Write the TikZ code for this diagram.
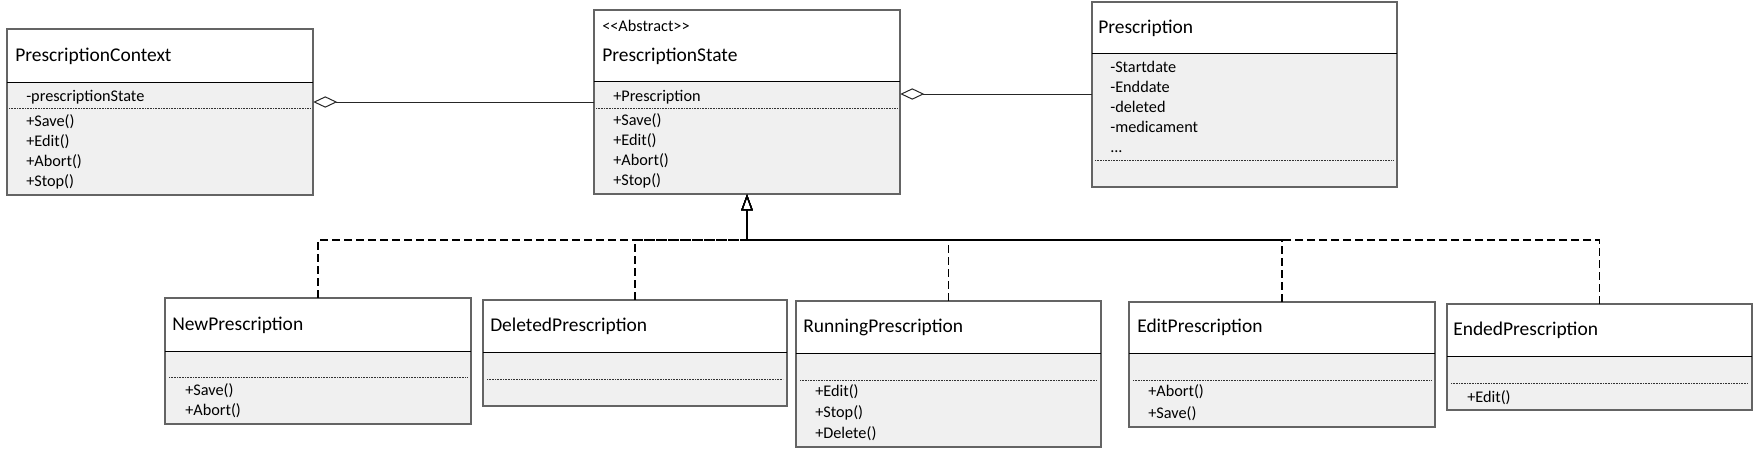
\documentclass[tikz,border=0pt]{standalone}
\usepackage{fontspec}
\setmainfont{Carlito}
\usetikzlibrary{arrows.meta,fit}
\definecolor{umlgray}{RGB}{240,240,240}
\definecolor{umlborder}{RGB}{100,100,100}
\tikzset{
  classtitle/.style={anchor=base west, inner sep=0pt, font=\fontsize{14.6}{17}\selectfont},
  member/.style={anchor=base west, inner sep=0pt, font=\fontsize{12.2}{15}\selectfont},
  classframe/.style={inner sep=0pt},
}
\begin{document}
\begin{tikzpicture}[x=0.75pt,y=0.75pt,yscale=-1,xscale=1,
  boxline/.style={draw=umlborder, line width=0.8pt},
  headline/.style={draw=black, line width=0.75pt},
  dotline/.style={draw=black!80, line width=0.5pt, dash pattern={on 0.6pt off 0.6pt}},
  aggr/.style={draw=black!85, line width=0.75pt, {Diamond[open,length=18pt,width=8.5pt]}-},
  realize/.style={draw=black, line width=0.9pt, dash pattern={on 6pt off 3pt}, -{Triangle[open,length=12pt,width=8.5pt]}}]
\useasboundingbox (0,0) rectangle (1757,451);

%Shape: Class PrescriptionContext
\fill [umlgray] (7,29) rectangle (313,195);
\fill [white] (7,29) rectangle (313,82);
\draw [boxline] (7,29) rectangle (313,195);
\draw [headline] (7,82) -- (313,82);
\draw [dotline] (9,108) -- (311,108);
\node [classframe, fit={(7,29) (313,195)}] (ctx) {};

%Shape: Class PrescriptionState
\fill [umlgray] (594,10) rectangle (900,194);
\fill [white] (594,10) rectangle (900,81);
\draw [boxline] (594,10) rectangle (900,194);
\draw [headline] (594,81) -- (900,81);
\draw [dotline] (596,108) -- (898,108);
\node [classframe, fit={(594,10) (900,194)}] (state) {};

%Shape: Class Prescription
\fill [umlgray] (1092,2) rectangle (1397,187);
\fill [white] (1092,2) rectangle (1397,53);
\draw [boxline] (1092,2) rectangle (1397,187);
\draw [headline] (1092,53) -- (1397,53);
\draw [dotline] (1095,160) -- (1394,160);
\node [classframe, fit={(1092,2) (1397,187)}] (presc) {};

%Shape: Class NewPrescription
\fill [umlgray] (165,298) rectangle (471,424);
\fill [white] (165,298) rectangle (471,351);
\draw [boxline] (165,298) rectangle (471,424);
\draw [headline] (165,351) -- (471,351);
\draw [dotline] (169,377) -- (467,377);
\node [classframe, fit={(165,298) (471,424)}] (newp) {};

%Shape: Class DeletedPrescription
\fill [umlgray] (483,300) rectangle (787,406);
\fill [white] (483,300) rectangle (787,352);
\draw [boxline] (483,300) rectangle (787,406);
\draw [headline] (483,352) -- (787,352);
\draw [dotline] (487,379) -- (783,379);
\node [classframe, fit={(483,300) (787,406)}] (delp) {};

%Shape: Class RunningPrescription
\fill [umlgray] (796,301) rectangle (1101,447);
\fill [white] (796,301) rectangle (1101,353);
\draw [boxline] (796,301) rectangle (1101,447);
\draw [headline] (796,353) -- (1101,353);
\draw [dotline] (800,380) -- (1097,380);
\node [classframe, fit={(796,301) (1101,447)}] (runp) {};

%Shape: Class EditPrescription
\fill [umlgray] (1129,302) rectangle (1435,427);
\fill [white] (1129,302) rectangle (1435,353);
\draw [boxline] (1129,302) rectangle (1435,427);
\draw [headline] (1129,353) -- (1435,353);
\draw [dotline] (1133,380) -- (1431,380);
\node [classframe, fit={(1129,302) (1435,427)}] (editp) {};

%Shape: Class EndedPrescription
\fill [umlgray] (1447,304) rectangle (1752,410);
\fill [white] (1447,304) rectangle (1752,356);
\draw [boxline] (1447,304) rectangle (1752,410);
\draw [headline] (1447,356) -- (1752,356);
\draw [dotline] (1451,383) -- (1748,383);
\node [classframe, fit={(1447,304) (1752,410)}] (endp) {};

% Text Node
\node [classtitle] (ctxtitle) at (15,61.5) {PrescriptionContext};
\node [member] (ctxattr) at (26,101.5) {-prescriptionState};
\node [member] (ctxsave) at (26,126) {+Save()};
\node [member] (ctxedit) at (26,146) {+Edit()};
\node [member] (ctxabort) at (26,166) {+Abort()};
\node [member] (ctxstop) at (26,186) {+Stop()};
% Text Node
\node [member] (statestereo) at (602,31) {<{}<Abstract>{}>};
\node [classtitle] (statetitle) at (602,61) {PrescriptionState};
\node [member] (stateattr) at (613,101) {+Prescription};
\node [member] (statesave) at (613,125) {+Save()};
\node [member] (stateedit) at (613,145) {+Edit()};
\node [member] (stateabort) at (613,165) {+Abort()};
\node [member] (statestop) at (613,185) {+Stop()};
% Text Node
\node [classtitle] (presctitle) at (1098,33) {Prescription};
\node [member] (prescstart) at (1110,72.5) {-Startdate};
\node [member] (prescend) at (1110,92.5) {-Enddate};
\node [member] (prescdel) at (1110,112.5) {-deleted};
\node [member] (prescmed) at (1110,132.5) {-medicament};
\node [member] (prescmore) at (1110,152) {...};
% Text Node
\node [classtitle] (newptitle) at (172,330) {NewPrescription};
\node [member] (newpsave) at (185,395.5) {+Save()};
\node [member] (newpabort) at (185,415) {+Abort()};
% Text Node
\node [classtitle] (delptitle) at (490,331.5) {DeletedPrescription};
% Text Node
\node [classtitle] (runptitle) at (803,332) {RunningPrescription};
\node [member] (runpedit) at (815,396.5) {+Edit()};
\node [member] (runpstop) at (815,417.5) {+Stop()};
\node [member] (runpdel) at (815,438) {+Delete()};
% Text Node
\node [classtitle] (editptitle) at (1137,332) {EditPrescription};
\node [member] (editpabort) at (1148,396.5) {+Abort()};
\node [member] (editpsave) at (1148,418) {+Save()};
% Text Node
\node [classtitle] (endptitle) at (1453,335.5) {EndedPrescription};
\node [member] (endpedit) at (1467,402) {+Edit()};

%Aggregation Lines
\draw [aggr] (ctx.east |- 0,102) -- (state.west |- 0,102);
\draw [aggr] (state.east |- 0,94) -- (presc.west |- 0,94);

%Realization Lines
\draw [realize] (newp.north) |- (state.south |- 0,240) -- (state.south);
\draw [realize] (delp.north) |- (state.south |- 0,240) -- (state.south);
\draw [realize] (runp.north) |- (state.south |- 0,240) -- (state.south);
\draw [realize] (editp.north) |- (state.south |- 0,240) -- (state.south);
\draw [realize] (endp.north) |- (state.south |- 0,240) -- (state.south);

\end{tikzpicture}
\end{document}
